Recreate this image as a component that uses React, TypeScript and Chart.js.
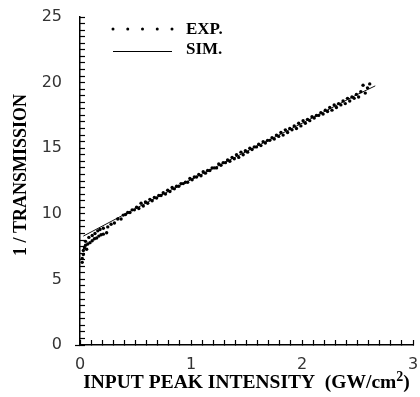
import React, { useEffect, useRef } from "react";
import { Chart, registerables } from "chart.js";

Chart.register(...registerables);

// Experimental points (EXP.)
const expX = [
  0.02, 0.02, 0.03, 0.03, 0.04, 0.05, 0.05, 0.06, 0.07, 0.08, 0.09, 0.11, 0.11, 0.13, 0.135, 0.15,
  0.16, 0.17, 0.18, 0.19, 0.21, 0.21, 0.24, 0.25, 0.28, 0.31, 0.34, 0.37, 0.39, 0.41, 0.43, 0.45,
  0.47, 0.49, 0.51, 0.53, 0.55, 0.57, 0.59, 0.61, 0.63, 0.65, 0.67, 0.69, 0.71, 0.73, 0.75, 0.77,
  0.79, 0.81, 0.83, 0.85, 0.87, 0.89, 0.91, 0.93, 0.95, 0.97, 0.99, 1.01, 1.03, 1.05, 1.07, 1.09,
  1.11, 1.13, 1.15, 1.17, 1.19, 1.21, 1.23, 1.25, 1.27, 1.29, 1.31, 1.33, 1.35, 1.37, 1.39, 1.41,
  1.43, 1.45, 1.47, 1.49, 1.51, 1.53, 1.55, 1.57, 1.59, 1.61, 1.63, 1.65, 1.67, 1.69, 1.71, 1.73,
  1.75, 1.77, 1.79, 1.81, 1.83, 1.85, 1.87, 1.89, 1.91, 1.93, 1.95, 1.97, 1.99, 2.01, 2.03, 2.05,
  2.07, 2.09, 2.11, 2.13, 2.15, 2.17, 2.19, 2.21, 2.23, 2.25, 2.27, 2.29, 2.31, 2.33, 2.35, 2.37,
  2.39, 2.41, 2.43, 2.45, 2.47, 2.49, 2.51, 2.53, 2.55, 2.57, 2.59, 2.61,
];
const expY = [
  6.3, 6.6, 6.9, 7.2, 7.4, 7.6, 7.9, 7.3, 7.7, 8.2, 7.8, 7.95, 8.35, 8.1, 8.5, 8.15,
  8.7, 8.3, 8.8, 8.4, 8.45, 8.9, 8.55, 9.0, 9.2, 9.3, 9.6, 9.6, 9.9, 9.95, 10.1, 10.1,
  10.3, 10.3, 10.5, 10.4, 10.8, 10.6, 10.9, 10.8, 11.1, 11.0, 11.25, 11.2, 11.4, 11.4, 11.6, 11.5,
  11.8, 11.7, 12.0, 11.9, 12.1, 12.1, 12.3, 12.3, 12.4, 12.4, 12.7, 12.6, 12.8, 12.8, 13.0, 12.9,
  13.2, 13.1, 13.3, 13.3, 13.5, 13.5, 13.5, 13.8, 13.7, 13.9, 13.9, 14.1, 14.0, 14.3, 14.2, 14.5,
  14.3, 14.7, 14.5, 14.8, 14.7, 15.0, 14.9, 15.1, 15.1, 15.3, 15.2, 15.5, 15.4, 15.6, 15.6, 15.8,
  15.7, 16.0, 15.9, 16.2, 16.0, 16.4, 16.2, 16.5, 16.4, 16.7, 16.5, 16.9, 16.7, 17.1, 16.9, 17.2,
  17.1, 17.4, 17.3, 17.5, 17.5, 17.7, 17.6, 17.9, 17.8, 18.1, 17.9, 18.3, 18.1, 18.4, 18.3, 18.6,
  18.4, 18.8, 18.6, 18.9, 18.8, 19.1, 18.9, 19.3, 19.8, 19.2, 19.6, 19.9,
];

// Simulation line (SIM.)
const simX = [0.03, 0.5, 1.0, 1.5, 2.0, 2.5, 2.66];
const simY = [8.3, 10.4, 12.6, 14.75, 16.9, 19.1, 19.75];

// Axis tick marks (minor steps) and labelled values
const xTickMarks = [
  0, 0.1, 0.2, 0.3, 0.4, 0.5, 0.6, 0.7, 0.8, 0.9, 1, 1.1, 1.2, 1.3, 1.4, 1.5, 1.6, 1.7, 1.8, 1.9,
  2, 2.1, 2.2, 2.3, 2.4, 2.5, 2.6, 2.7, 2.8, 2.9, 3,
];
const xLabels = [0, 1, 2, 3];
const yTickMarks = [
  0, 0.5, 1, 1.5, 2, 2.5, 3, 3.5, 4, 4.5, 5, 5.5, 6, 6.5, 7, 7.5, 8, 8.5, 9, 9.5, 10, 10.5, 11,
  11.5, 12, 12.5, 13, 13.5, 14, 14.5, 15, 15.5, 16, 16.5, 17, 17.5, 18, 18.5, 19, 19.5, 20, 20.5,
  21, 21.5, 22, 22.5, 23, 23.5, 24, 24.5, 25,
];
const yLabels = [0, 5, 10, 15, 20, 25];

const xTitle = "INPUT PEAK INTENSITY  (GW/cm";
const xTitleSup = "2";
const yTitle = "1 / TRANSMISSION";
const legendLabels = ["EXP.", "SIM."];

const decorPlugin = {
  id: "decor",
  afterDraw(chart: any) {
    const ctx = chart.ctx;
    const ca = chart.chartArea;
    ctx.save();
    try {
      (ctx as any).letterSpacing = "0px";
    } catch (e) {}
    ctx.fillStyle = "#000";
    ctx.strokeStyle = "#000";
    // x title
    const mainFont = "bold 19.5px 'Liberation Serif', 'Times New Roman', serif";
    const supFont = "bold 14px 'Liberation Serif', serif";
    ctx.font = mainFont;
    const w1 = ctx.measureText(xTitle).width;
    ctx.font = supFont;
    const w2 = ctx.measureText(xTitleSup).width;
    ctx.font = mainFont;
    const w3 = ctx.measureText(")").width;
    const total = w1 + w2 + w3;
    const cx = (ca.left + ca.right) / 2;
    const x0 = cx - total / 2;
    const by = 388;
    ctx.textAlign = "left";
    ctx.textBaseline = "alphabetic";
    ctx.fillText(xTitle, x0, by);
    ctx.font = supFont;
    ctx.fillText(xTitleSup, x0 + w1, by - 7);
    ctx.font = mainFont;
    ctx.fillText(")", x0 + w1 + w2, by);
    // y title
    ctx.save();
    ctx.translate(26, 175);
    ctx.rotate(-Math.PI / 2);
    ctx.textAlign = "center";
    ctx.font = "bold 18px 'Liberation Serif', 'Times New Roman', serif";
    ctx.fillText(yTitle, 0, 0);
    ctx.restore();
    // zero tick extending left of the y axis
    ctx.lineWidth = 1.2;
    ctx.beginPath();
    ctx.moveTo(ca.left - 5, ca.bottom + 0.5);
    ctx.lineTo(ca.left, ca.bottom + 0.5);
    ctx.stroke();
    // legend
    const lx = ca.left + 33;
    const lw = 59;
    const ly1 = ca.top + 12;
    const ly2 = ca.top + 34;
    for (let i = 0; i < 5; i++) {
      ctx.beginPath();
      ctx.arc(lx + (lw * i) / 4, ly1, 1.5, 0, Math.PI * 2);
      ctx.fill();
    }
    ctx.beginPath();
    ctx.lineWidth = 1;
    ctx.moveTo(lx, ly2 + 0.5);
    ctx.lineTo(lx + lw, ly2 + 0.5);
    ctx.stroke();
    ctx.font = "bold 17px 'Liberation Serif', 'Times New Roman', serif";
    ctx.textAlign = "left";
    ctx.textBaseline = "middle";
    ctx.fillText(legendLabels[0], lx + lw + 14, ly1 + 1);
    ctx.fillText(legendLabels[1], lx + lw + 14, ly2 - 1);
    ctx.restore();
  },
};

export default function App() {
  const ref = useRef<HTMLCanvasElement | null>(null);
  useEffect(() => {
    if (!ref.current) return;
    const tickFont = { family: "'DejaVu Sans', sans-serif", size: 16, weight: "normal" as const };
    const chart = new Chart(ref.current, {
      type: "scatter",
      data: {
        datasets: [
          {
            label: legendLabels[0],
            data: expX.map((x, i) => ({ x, y: expY[i] })),
            pointRadius: 1.7,
            pointBackgroundColor: "#000",
            pointBorderWidth: 0,
            showLine: false,
          },
          {
            label: legendLabels[1],
            data: simX.map((x, i) => ({ x, y: simY[i] })),
            pointRadius: 0,
            borderColor: "#111",
            borderWidth: 1,
            showLine: true,
            tension: 0,
          },
        ],
      },
      options: {
        responsive: false,
        animation: false,
        layout: { padding: { top: 17, right: 7, left: 0, bottom: 0 } },
        plugins: { legend: { display: false }, tooltip: { enabled: false } },
        scales: {
          x: {
            type: "linear",
            min: 0,
            max: 3,
            afterBuildTicks: (s: any) => {
              s.ticks = xTickMarks.map((v) => ({ value: v }));
            },
            afterFit: (s: any) => {
              s.height = 52;
              s.paddingLeft = 0;
              s.paddingRight = 0;
              s.paddingTop = 0;
              s.paddingBottom = 0;
            },
            ticks: {
              font: tickFont,
              color: "#333",
              padding: 15,
              autoSkip: false,
              maxRotation: 0,
              callback: (v: any) => (xLabels.includes(Number(v)) ? String(v) : ""),
            },
            grid: {
              display: true,
              drawOnChartArea: false,
              drawTicks: true,
              tickLength: -5,
              tickColor: "#000",
              tickWidth: 1.2,
            },
            border: { display: true, color: "#000", width: 1.5 },
          },
          y: {
            type: "linear",
            min: 0,
            max: 25,
            afterBuildTicks: (s: any) => {
              s.ticks = yTickMarks.map((v) => ({ value: v }));
            },
            afterFit: (s: any) => {
              s.width = 80;
              s.paddingLeft = 0;
              s.paddingRight = 0;
              s.paddingTop = 0;
              s.paddingBottom = 0;
            },
            ticks: {
              font: tickFont,
              color: "#333",
              padding: 23,
              autoSkip: false,
              callback: (v: any) => (yLabels.includes(Number(v)) ? String(v) : ""),
            },
            grid: {
              display: true,
              drawOnChartArea: false,
              drawTicks: true,
              tickLength: -5,
              tickColor: "#000",
              tickWidth: 1.2,
            },
            border: { display: true, color: "#000", width: 1.5 },
          },
        },
      },
      plugins: [decorPlugin],
    });
    return () => chart.destroy();
  }, []);
  return (
    <div style={{ position: "absolute", left: 0, top: 0, width: 420, height: 397, background: "#fff" }}>
      <canvas ref={ref} width={420} height={397} />
    </div>
  );
}
